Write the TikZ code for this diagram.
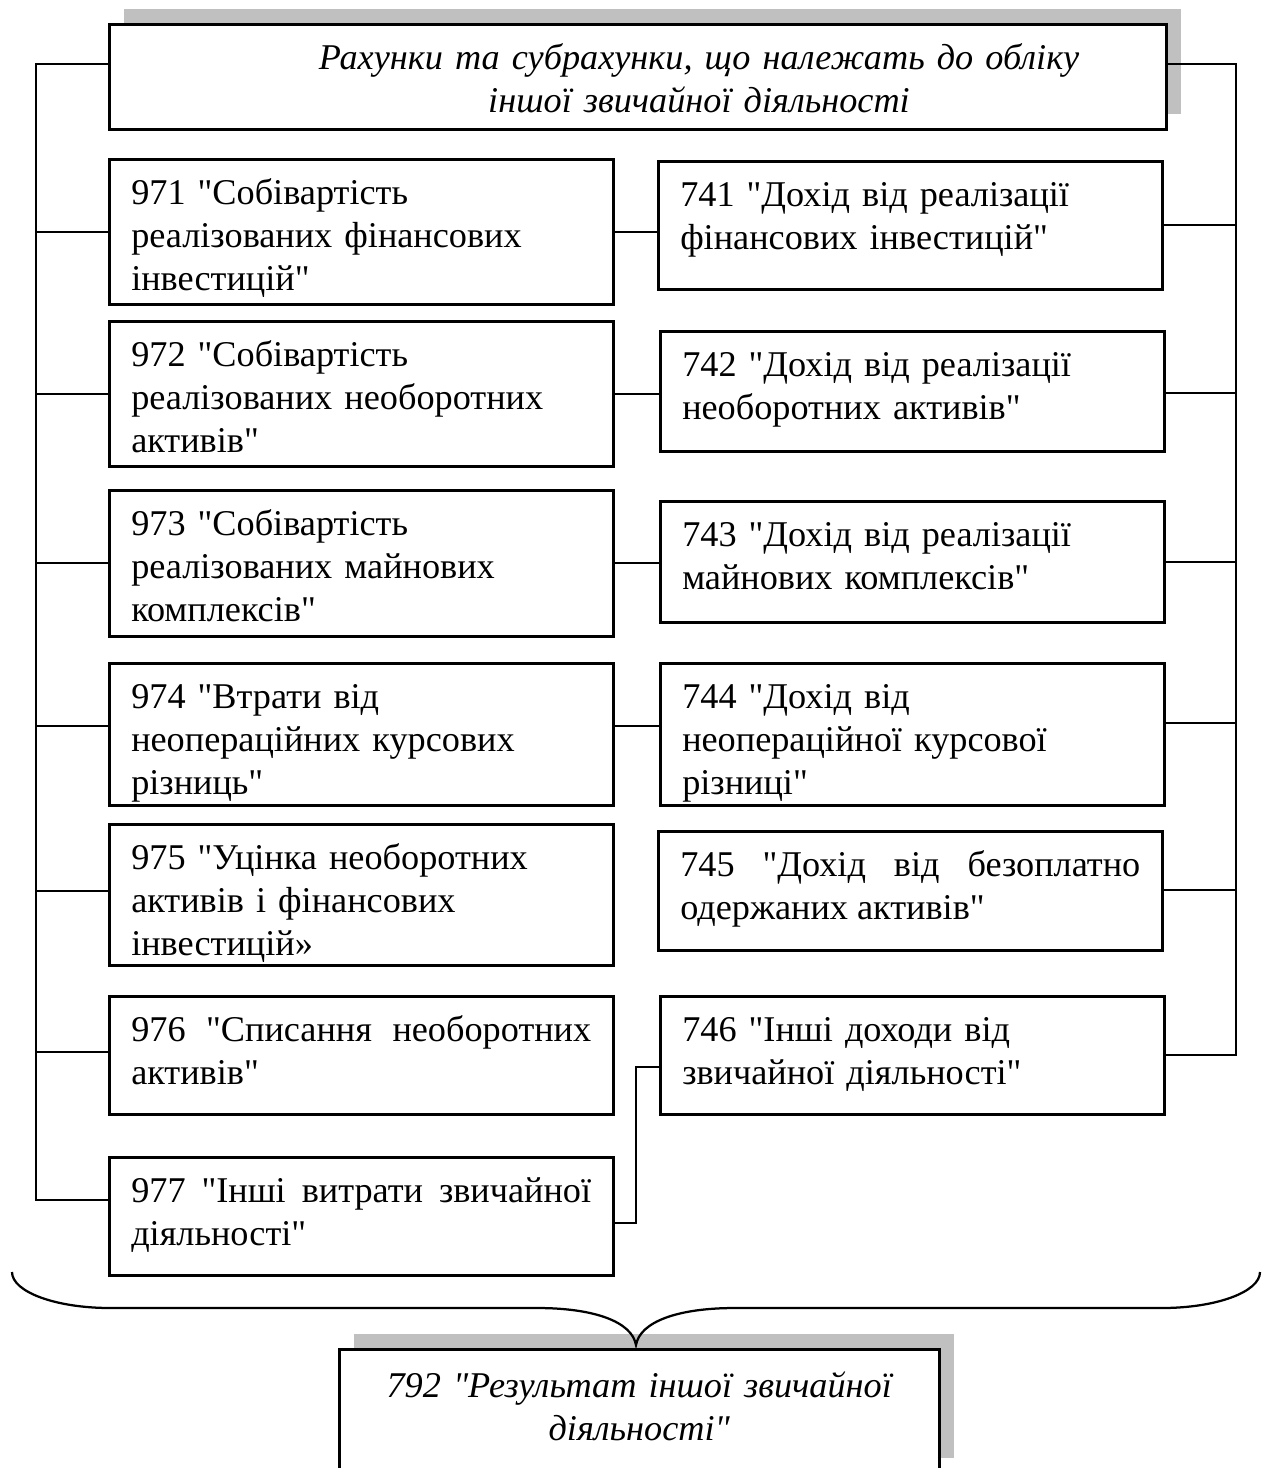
\documentclass[tikz,border=0pt]{standalone}
\usepackage{fontspec}
\setmainfont{Liberation Serif}[Ligatures=TeXOff]
\usetikzlibrary{shadows}
\definecolor{shadowgray}{RGB}{192,192,192}
\newcommand{\acctsize}{\fontsize{14.5pt}{17.2pt}\selectfont}
\tikzset{
  acct/.style={draw, line width=1pt, fill=white, anchor=north west, inner xsep=8.8pt, inner ysep=0pt, text width=184pt, align=left, text height=18pt, font=\acctsize},
  acctj/.style={acct, align=justify},
  headbox/.style={draw, line width=1pt, fill=white, anchor=north west, inner sep=0pt, align=center, font=\acctsize\itshape, drop shadow={shadow xshift=6pt, shadow yshift=6pt, fill=shadowgray, opacity=1}},
  link/.style={line width=0.8pt}
}

\begin{document}
\begin{tikzpicture}[x=0.4pt,y=-0.4pt]
\useasboundingbox (0,0) rectangle (1271,1468);
% header
\node[headbox, text width=422.8pt, text height=18pt, text depth=24pt] (head) at (108,23) {\hspace*{49pt}Рахунки та субрахунки, що належать до обліку\\\hspace*{49pt}іншої звичайної діяльності};
% expense accounts
\node[acct, text depth=40pt] (c971) at (108,158) {971 "Собівартість\\ реалізованих фінансових\\ інвестицій"};
\node[acct, text depth=40pt] (c972) at (108,320) {972 "Собівартість\\ реалізованих необоротних\\ активів"};
\node[acct, text depth=40.4pt] (c973) at (108,489) {973 "Собівартість\\ реалізованих майнових\\ комплексів"};
\node[acct, text depth=38.8pt] (c974) at (108,662) {974 "Втрати від\\ неопераційних курсових\\ різниць"};
\node[acct, text depth=38.4pt] (c975) at (108,823) {975 "Уцінка необоротних\\ активів і фінансових\\ інвестицій»};
\node[acctj, text depth=29.2pt] (c976) at (108,995) {976 "Списання необоротних\linebreak активів"};
\node[acctj, text depth=29.2pt] (c977) at (108,1156) {977 "Інші витрати звичайної\linebreak діяльності"};
% income accounts
\node[acct, text depth=33.2pt] (c741) at (657,160) {741 "Дохід від реалізації\\ фінансових інвестицій"};
\node[acct, text depth=30pt] (c742) at (659,330) {742 "Дохід від реалізації\\ необоротних активів"};
\node[acct, text depth=30.4pt] (c743) at (659,500) {743 "Дохід від реалізації\\ майнових комплексів"};
\node[acct, text depth=38.8pt] (c744) at (659,662) {744 "Дохід від\\ неопераційної курсової\\ різниці"};
\node[acctj, text depth=29.6pt] (c745) at (657,830) {745 "Дохід від безоплатно\linebreak одержаних активів"};
\node[acct, text depth=29.2pt] (c746) at (659,995) {746 "Інші доходи від\\ звичайної діяльності"};
% result
\node[headbox, text width=240pt, text height=19.2pt, text depth=30.4pt] (result) at (338,1348) {792 "Результат іншої звичайної\\ діяльності"};

\coordinate (lbus) at (36,0);
\coordinate (rbus) at (1236,0);
% left bus
\draw[link] ([yshift=5pt]head.west) -- ([yshift=5pt]head.west -| lbus) -- ([yshift=6.6pt]c977.west -| lbus) -- ([yshift=6.6pt]c977.west);
\foreach \n/\dy in {971/0, 972/0, 973/0, 974/3.4, 975/1.6, 976/1.4}
  \draw[link] ([yshift=\dy pt]c\n.west) -- ([yshift=\dy pt]c\n.west -| lbus);
% right bus
\draw[link] ([yshift=5pt]head.east) -- ([yshift=5pt]head.east -| rbus) -- (c746.east -| rbus) -- (c746.east);
\foreach \n/\dy in {741/0, 742/-0.6, 743/0, 744/4.6, 745/0.4}
  \draw[link] ([yshift=\dy pt]c\n.east) -- ([yshift=\dy pt]c\n.east -| rbus);
% pairs
\foreach \a/\b/\dy in {971/741/0, 972/742/0, 973/743/0, 974/744/3.4}
  \draw[link] ([yshift=\dy pt]c\a.east) -- ([yshift=\dy pt]c\a.east -| c\b.west);
\draw[link] ([yshift=-4.6pt]c746.west) -- ++(-23,0) |- ([yshift=-2.6pt]c977.east);

% brace
\coordinate (tip) at (636,1345);
\draw[line width=0.9pt] (12,1272) .. controls (12,1292) and (56,1308) .. (110,1308) -- (537,1308) .. controls (595,1308) and (632,1322) .. (tip) .. controls (640,1322) and (677,1308) .. (735,1308) -- (1162,1308) .. controls (1216,1308) and (1260,1292) .. (1260,1272);
\end{tikzpicture}
\end{document}
